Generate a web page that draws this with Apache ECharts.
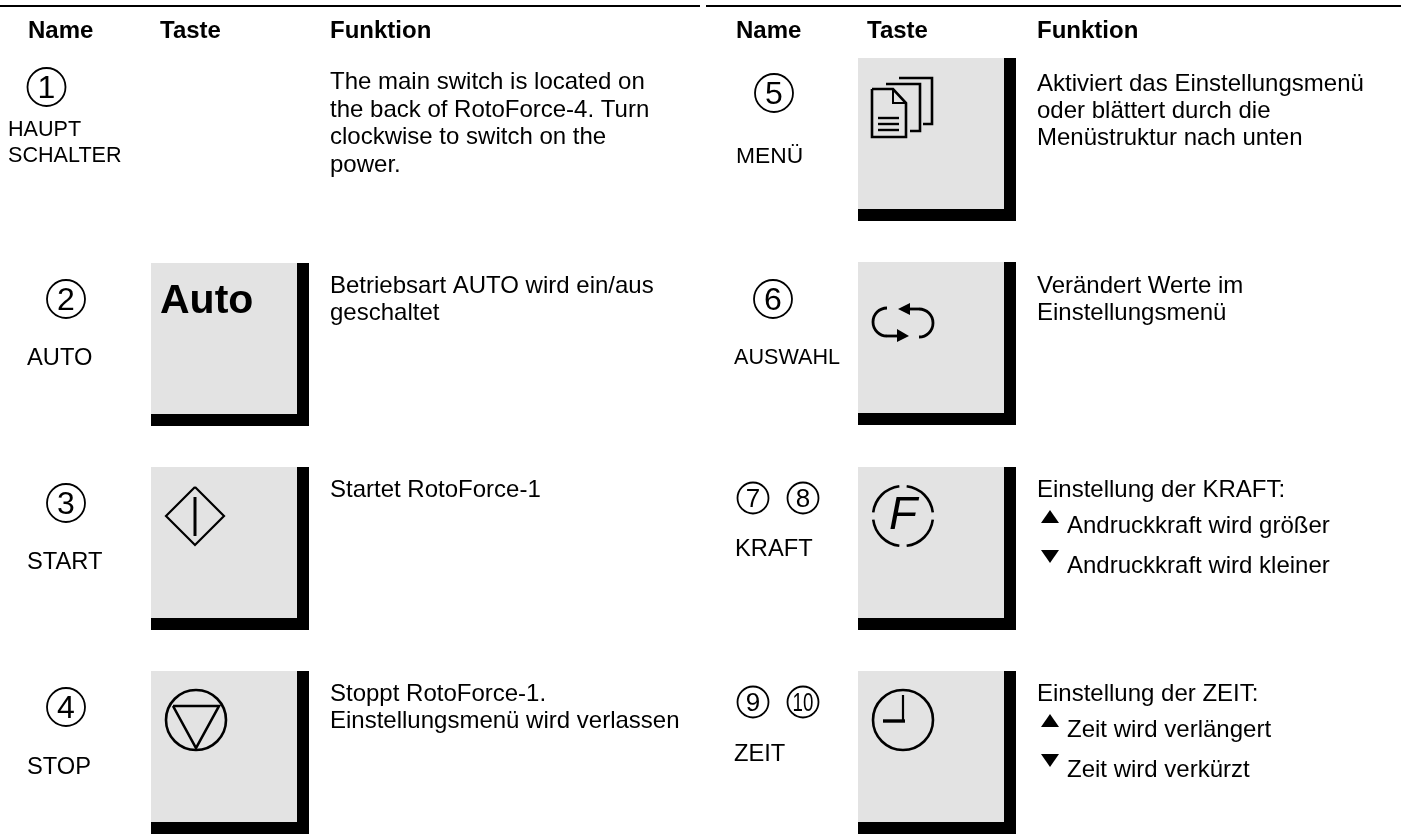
<!DOCTYPE html>
<html>
<head>
    <meta charset="utf-8">
    <title>RotoForce Tasten</title>
    <script src="https://cdn.jsdelivr.net/npm/echarts@6/dist/echarts.min.js"></script>
    <style>
        html, body { margin: 0; padding: 0; background: #fff; }
    </style>
</head>
<body>
    <div id="main" style="width: 1401px;height:834px;"></div>
    <script type="text/javascript">
        // Tabelleninhalt
        var headers = ['Name', 'Taste', 'Funktion'];
        var leftNames = [['HAUPT', 'SCHALTER'], ['AUTO'], ['START'], ['STOP']];
        var rightNames = ['MENÜ', 'AUSWAHL', 'KRAFT', 'ZEIT'];
        var leftNumbers = ['1', '2', '3', '4'];
        var rightNumbers = [['5'], ['6'], ['7', '8'], ['9', '10']];
        var leftTexts = [
            ['The main switch is located on', 'the back of RotoForce-4. Turn', 'clockwise to switch on the', 'power.'],
            ['Betriebsart AUTO wird ein/aus', 'geschaltet'],
            ['Startet RotoForce-1'],
            ['Stoppt RotoForce-1.', 'Einstellungsmenü wird verlassen']
        ];
        var rightTexts = [
            ['Aktiviert das Einstellungsmenü', 'oder blättert durch die', 'Menüstruktur nach unten'],
            ['Verändert Werte im', 'Einstellungsmenü'],
            ['Einstellung der KRAFT:'],
            ['Einstellung der ZEIT:']
        ];
        var upDownTexts = [
            ['Andruckkraft wird größer', 'Andruckkraft wird kleiner'],
            ['Zeit wird verlängert', 'Zeit wird verkürzt']
        ];
        var autoKeyLabel = 'Auto';
        var forceKeyLabel = 'F';

        var font = '"Liberation Sans", Arial, sans-serif';
        var els = [];

        // y ist die optische Mitte der Zeile
        function txt(x, y, s, size, weight, style, align, thin, thinColor) {
            els.push({
                type: 'text', silent: true, x: x, y: y + 1.5,
                style: {
                    text: s, fill: '#000', font: (style || 'normal') + ' ' + (weight || 'normal') + ' ' + size + 'px ' + font,
                    textAlign: align || 'left', textVerticalAlign: 'middle',
                    stroke: thin ? (thinColor || '#fff') : null, lineWidth: thin || 0
                }
            });
        }
        function rect(x, y, w, h, c) {
            els.push({ type: 'rect', silent: true, shape: { x: x, y: y, width: w, height: h }, style: { fill: c } });
        }
        function ln(pts, w, fill) {
            els.push({
                type: fill ? 'polygon' : 'polyline', silent: true, shape: { points: pts },
                style: fill ? { fill: '#000' } : { stroke: '#000', lineWidth: w, fill: null }
            });
        }
        function ring(cx, cy, r, w) {
            els.push({ type: 'circle', silent: true, shape: { cx: cx, cy: cy, r: r }, style: { stroke: '#000', lineWidth: w, fill: null } });
        }
        function arc(cx, cy, r, a0, a1, w) {
            els.push({
                type: 'arc', silent: true,
                shape: { cx: cx, cy: cy, r: r, startAngle: a0 * Math.PI / 180, endAngle: a1 * Math.PI / 180, clockwise: true },
                style: { stroke: '#000', lineWidth: w, fill: null }
            });
        }
        function number(cx, cy, s, r, size) {
            ring(cx, cy, r, 1.8);
            if (s.length > 1) {
                els.push({
                    type: 'text', silent: true, x: cx, y: cy + 2, scaleX: 0.72, scaleY: 1,
                    style: { text: s, fill: '#000', font: size + 'px ' + font, textAlign: 'center', textVerticalAlign: 'middle' }
                });
            } else {
                txt(cx, cy + 0.5, s, size, 'normal', 'normal', 'center', 0.7);
            }
        }
        function key(x, y) {
            rect(x, y, 158, 163, '#000');
            rect(x, y, 146, 151, '#e3e3e3');
        }
        function lines(x, ys, arr) {
            arr.forEach(function (s, i) { txt(x, ys[i], s, 24); });
        }

        // Linien oben
        rect(0, 5, 700, 2, '#000');
        rect(706, 5, 695, 2, '#000');

        // Kopfzeilen
        [[28, 160, 330], [736, 867, 1037]].forEach(function (xs) {
            headers.forEach(function (h, i) { txt(xs[i], 30, h, 24, 'bold'); });
        });

        // Tasten
        var leftKeyY = [263, 467, 671];
        var rightKeyY = [58, 262, 467, 671];
        leftKeyY.forEach(function (y) { key(151, y); });
        rightKeyY.forEach(function (y) { key(858, y); });

        // linke Spalte: Nummern und Namen
        var leftCircleY = [87, 299, 503, 707];
        var leftCircleX = [46.5, 66, 66, 66];
        leftNumbers.forEach(function (n, i) { number(leftCircleX[i], leftCircleY[i], n, 19, 32); });
        txt(8, 129, leftNames[0][0], 21.6);
        txt(8, 155, leftNames[0][1], 21.6);
        txt(27, 357, leftNames[1][0], 23.7);
        txt(27, 561, leftNames[2][0], 23.7);
        txt(27, 766, leftNames[3][0], 23.7);

        // rechte Spalte: Nummern und Namen
        number(774, 93, rightNumbers[0][0], 19, 32);
        number(773, 299, rightNumbers[1][0], 19, 32);
        number(753, 498, rightNumbers[2][0], 15.5, 26);
        number(803, 498, rightNumbers[2][1], 15.5, 26);
        number(753, 702, rightNumbers[3][0], 15.5, 26);
        number(803, 702, rightNumbers[3][1], 15.5, 26);
        txt(736, 155, rightNames[0], 22.8);
        txt(734, 357, rightNames[1], 21.6);
        txt(735, 548, rightNames[2], 23.7);
        txt(734, 753, rightNames[3], 23.7);

        // Funktionstexte
        lines(330, [81, 108.5, 136, 163.5], leftTexts[0]);
        lines(330, [285, 312], leftTexts[1]);
        lines(330, [489], leftTexts[2]);
        lines(330, [693, 720], leftTexts[3]);
        lines(1037, [83, 110, 137], rightTexts[0]);
        lines(1037, [285, 312], rightTexts[1]);
        lines(1037, [489], rightTexts[2]);
        lines(1037, [693], rightTexts[3]);

        // Pfeile hoch/runter
        [[510, 550, 525, 565, 0], [714, 754, 729, 769, 1]].forEach(function (r) {
            ln([[1041, r[0] + 13], [1050, r[0]], [1059, r[0] + 13]], 0, true);
            ln([[1041, r[1]], [1059, r[1]], [1050, r[1] + 13]], 0, true);
            txt(1067, r[2], upDownTexts[r[4]][0], 24);
            txt(1067, r[3], upDownTexts[r[4]][1], 24);
        });

        // Symbol Auto
        txt(160, 300.5, autoKeyLabel, 41, 'bold');

        // Symbol Start
        ln([[195, 487], [224, 516], [195, 545], [166, 516], [195, 487]], 2.2);
        ln([[195, 497], [195, 536]], 3);

        // Symbol Stop
        ring(196, 720, 30, 2.6);
        ln([[173, 706], [219, 706], [196, 748], [173, 706]], 2.6);

        // Symbol Menue
        ln([[872, 89], [893, 89], [906, 103], [906, 137], [872, 137], [872, 89]], 2.6);
        ln([[893, 89], [893, 103], [906, 103]], 2);
        ln([[878, 118], [899, 118]], 2.4);
        ln([[878, 124], [899, 124]], 2.4);
        ln([[878, 130], [899, 130]], 2.4);
        ln([[886, 84], [920, 84], [920, 131], [910, 131]], 2.6);
        ln([[899, 78], [932, 78], [932, 124], [923, 124]], 2.6);

        // Symbol Auswahl
        arc(887, 322, 14, 90, 270, 2.8);
        ln([[887, 336], [899, 336]], 2.8);
        ln([[897, 329], [909, 336], [897, 342]], 0, true);
        arc(919, 323, 14, -90, 90, 2.8);
        ln([[908, 309], [919, 309]], 2.8);
        ln([[910, 303], [898, 309], [910, 315]], 0, true);

        // Symbol Kraft
        arc(903, 516, 30, 187, 263, 2.6);
        arc(903, 516, 30, 277, 353, 2.6);
        arc(903, 516, 30, 7, 83, 2.6);
        arc(903, 516, 30, 97, 173, 2.6);
        txt(903, 515, forceKeyLabel, 46, 'normal', 'italic', 'center', 1, '#e3e3e3');

        // Symbol Zeit
        ring(903, 720, 30, 2.6);
        ln([[903, 695], [903, 722]], 2.2);
        ln([[883, 721], [905, 721]], 3.4);

        var myChart = echarts.init(document.getElementById('main'));
        var option = {
            backgroundColor: '#fff',
            animation: false,
            graphic: { elements: els }
        };
        myChart.setOption(option);
    </script>
</body>
</html>
